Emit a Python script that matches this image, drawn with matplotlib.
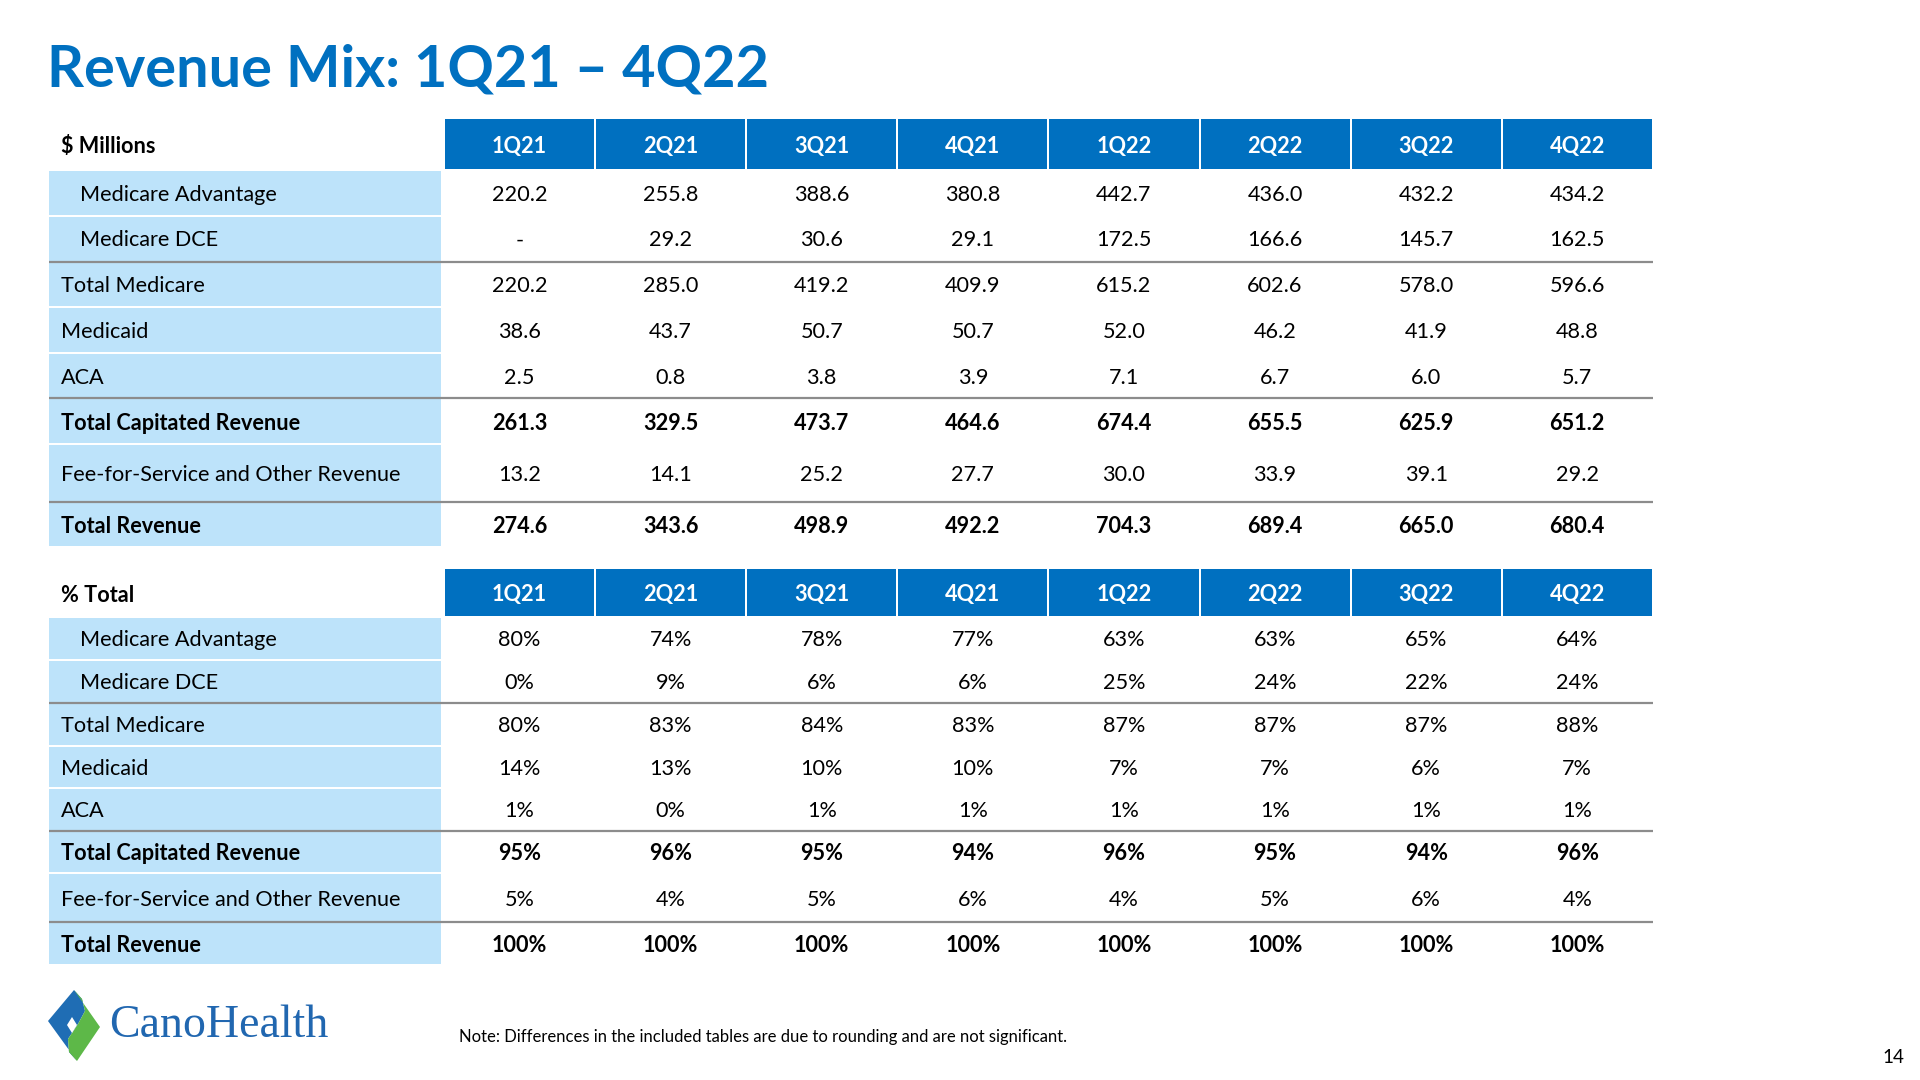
import matplotlib
matplotlib.use("Agg")
import matplotlib.pyplot as plt
from matplotlib.patches import Rectangle, Polygon

plt.rcParams['font.family'] = ['Lato', 'DejaVu Sans']

# ---- data ----
quarters = ['1Q21', '2Q21', '3Q21', '4Q21', '1Q22', '2Q22', '3Q22', '4Q22']
row_labels = ['Medicare Advantage', 'Medicare DCE', 'Total Medicare', 'Medicaid', 'ACA',
              'Total Capitated Revenue', 'Fee-for-Service and Other Revenue', 'Total Revenue']
indented = [True, True, False, False, False, False, False, False]
bold_rows = [False, False, False, False, False, True, False, True]

medicare_adv = [220.2, 255.8, 388.6, 380.8, 442.7, 436.0, 432.2, 434.2]
medicare_dce = [None, 29.2, 30.6, 29.1, 172.5, 166.6, 145.7, 162.5]
total_medicare = [220.2, 285.0, 419.2, 409.9, 615.2, 602.6, 578.0, 596.6]
medicaid = [38.6, 43.7, 50.7, 50.7, 52.0, 46.2, 41.9, 48.8]
aca = [2.5, 0.8, 3.8, 3.9, 7.1, 6.7, 6.0, 5.7]
total_capitated = [261.3, 329.5, 473.7, 464.6, 674.4, 655.5, 625.9, 651.2]
ffs_other = [13.2, 14.1, 25.2, 27.7, 30.0, 33.9, 39.1, 29.2]
total_revenue = [274.6, 343.6, 498.9, 492.2, 704.3, 689.4, 665.0, 680.4]

pct_medicare_adv = [80, 74, 78, 77, 63, 63, 65, 64]
pct_medicare_dce = [0, 9, 6, 6, 25, 24, 22, 24]
pct_total_medicare = [80, 83, 84, 83, 87, 87, 87, 88]
pct_medicaid = [14, 13, 10, 10, 7, 7, 6, 7]
pct_aca = [1, 0, 1, 1, 1, 1, 1, 1]
pct_total_capitated = [95, 96, 95, 94, 96, 95, 94, 96]
pct_ffs_other = [5, 4, 5, 6, 4, 5, 6, 4]
pct_total_revenue = [100, 100, 100, 100, 100, 100, 100, 100]

millions = [medicare_adv, medicare_dce, total_medicare, medicaid, aca,
            total_capitated, ffs_other, total_revenue]
percents = [pct_medicare_adv, pct_medicare_dce, pct_total_medicare, pct_medicaid, pct_aca,
            pct_total_capitated, pct_ffs_other, pct_total_revenue]

# ---- style / layout ----
BLUE = '#0070C0'
LIGHT = '#BDE3FA'
GRAY = '#8C8C8C'
FS = 15.6

fig = plt.figure(figsize=(19.2, 10.8), dpi=100)
ax = fig.add_axes([0, 0, 1, 1])
ax.set_xlim(0, 1920)
ax.set_ylim(1080, 0)
ax.axis('off')

label_x0, label_x1 = 49, 441
col_x0, col_w = 444, 151.1
n_cols = len(quarters)
right_x = col_x0 + n_cols * col_w


def fmt_m(v):
    return '-' if v is None else f'{v:.1f}'


def fmt_p(v):
    return f'{v}%'


def draw_table(edges, corner, values, fmt):
    # header
    y0, y1 = edges[0], edges[1]
    ax.text(61, (y0 + y1) / 2, corner, fontsize=FS, fontweight='bold',
            va='center_baseline', ha='left', color='black')
    for j, q in enumerate(quarters):
        x = col_x0 + j * col_w
        ax.add_patch(Rectangle((x + 1, y0), col_w - 2, y1 - y0 - 1.5,
                               facecolor=BLUE, edgecolor='none'))
        ax.text(x + col_w / 2, (y0 + y1) / 2, q, fontsize=FS, fontweight='bold',
                color='white', ha='center', va='center_baseline')
    # body
    for i, lab in enumerate(row_labels):
        ya, yb = edges[i + 1], edges[i + 2]
        yc = (ya + yb) / 2
        ax.add_patch(Rectangle((label_x0, ya + 1), label_x1 - label_x0, yb - ya - 2,
                               facecolor=LIGHT, edgecolor='none'))
        w = 'bold' if bold_rows[i] else 'normal'
        ax.text(80 if indented[i] else 61, yc, lab, fontsize=FS, fontweight=w,
                va='center_baseline', ha='left', color='black')
        for j in range(n_cols):
            ax.text(col_x0 + (j + 0.5) * col_w, yc, fmt(values[i][j]), fontsize=FS,
                    fontweight=w, ha='center', va='center_baseline', color='black')
    # separator lines above Total Medicare, Total Capitated, Total Revenue
    for k in (3, 6, 8):
        ax.plot([label_x0, right_x], [edges[k], edges[k]], color=GRAY, lw=1.6,
                solid_capstyle='butt')


t1_edges = [119, 170, 215.5, 261.5, 307, 353, 398, 444, 501.5, 547]
t2_edges = [569, 617, 660, 702.5, 745.5, 788, 830.5, 873, 922, 965]

draw_table(t1_edges, '$ Millions', millions, fmt_m)
draw_table(t2_edges, '% Total', percents, fmt_p)

# title
ax.text(47, 86, 'Revenue Mix: 1Q21 \u2013 4Q22', fontsize=41.5, fontweight='bold',
        color=BLUE, ha='left', va='baseline')

# note and page number
ax.text(459, 1042, 'Note: Differences in the included tables are due to rounding and are not significant.',
        fontsize=12, ha='left', va='baseline', color='black')
ax.text(1904, 1063, '14', fontsize=13.5, ha='right', va='baseline', color='black')

# logo
divider = [(74, 990), (82, 999), (85, 1011), (78, 1024), (68, 1039), (69, 1052), (77, 1061)]
blue_part = [(48, 1021)] + divider
green_part = divider + [(100, 1027)]
ax.add_patch(Polygon(blue_part, closed=True, facecolor='#1F6DB4', edgecolor='none'))
ax.add_patch(Polygon(green_part, closed=True, facecolor='#5DB848', edgecolor='none'))
ax.add_patch(Polygon([(72, 1017), (77, 1025), (72, 1033), (67, 1025)], closed=True,
                     facecolor='white', edgecolor='none'))
ax.text(109, 1037, 'CanoHealth', fontsize=33, family='Liberation Serif',
        color='#2167B0', ha='left', va='baseline')

fig.savefig('out.png', dpi=100)
